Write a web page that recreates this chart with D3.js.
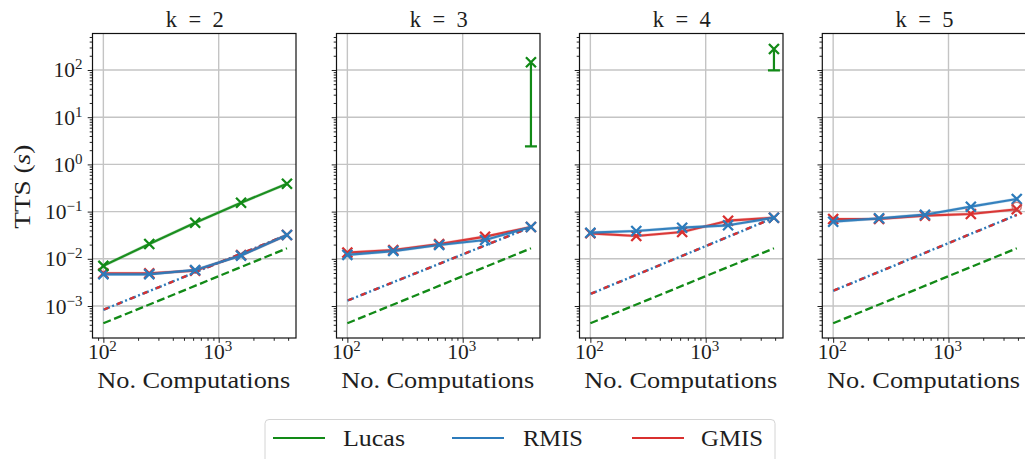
<!DOCTYPE html>
<html>
<head>
<meta charset="utf-8">
<script src="https://cdn.jsdelivr.net/npm/d3@7"></script>
<style>
  html, body { margin: 0; padding: 0; background: #fff; }
  svg { display: block; }
  text { font-family: "Liberation Serif", "Times New Roman", serif; fill: #1e1e1e; }
</style>
</head>
<body>
<svg id="chart" width="1025" height="459"></svg>
<script>
// Problem sizes (number of computations) shared by every panel
const computations = [100, 250, 625, 1562.5, 3906.25];
const kValues = [2, 3, 4, 5];

// Time-to-solution (s) per panel, one array per k
const lucasTTS = [
  [0.0071, 0.0206, 0.058, 0.154, 0.39],
  [null, null, null, null, 146],
  [null, null, null, null, 279],
  [null, null, null, null, null]
];
// lower end of the Lucas error bar (only where a single run was measured)
const lucasLower = [null, 2.4, 98, null];

const rmisTTS = [
  [0.0047, 0.0047, 0.0058, 0.0117, 0.032],
  [0.0121, 0.0146, 0.0196, 0.025, 0.0472],
  [0.0357, 0.0388, 0.0456, 0.0513, 0.0743],
  [0.0611, 0.0721, 0.0859, 0.127, 0.185]
];
const gmisTTS = [
  [0.0049, 0.0049, 0.0056, 0.012, 0.032],
  [0.0135, 0.0153, 0.0205, 0.0294, 0.0472],
  [0.0347, 0.0304, 0.037, 0.0641, 0.0743],
  [0.0697, 0.0697, 0.0818, 0.089, 0.112]
];

// Linear-scaling guide lines: value at the first and last problem size
const misGuideStart = [0.00083, 0.0013, 0.0018, 0.0021];
const misGuideEnd   = [0.032, 0.047, 0.074, 0.085];
const lucasGuide    = [0.00043, 0.0167];

// extra open marker on the k = 5 panel at the largest size
const extraMarker = [null, null, null, 0.127];

const yTickValues = [1e-3, 1e-2, 1e-1, 1e0, 1e1, 1e2];
const yTickExps   = ["−3", "−2", "−1", "0", "1", "2"];
const xTickValues = [1e2, 1e3];
const xTickExps   = ["2", "3"];

const seriesNames  = ["Lucas", "RMIS", "GMIS"];
const seriesColors = ["#128a17", "#2c7bbb", "#d9302f"];

// ---- layout ----
const svg = d3.select("#chart");
const panelLeft = [92.5, 336.5, 579.5, 822.3];
const panelW = 203.5;
const panelTop = 33.5, panelBottom = 338;

const x = d3.scaleLog().domain([80.5, 4680]).range([0, panelW]);
const y = d3.scaleLog().domain([2.1e-4, 593]).range([panelBottom - panelTop, 0]);
const H = panelBottom - panelTop;

const defs = svg.append("defs");

function xMarker(g, cx, cy, color, r = 5) {
  g.append("path")
    .attr("d", `M${cx - r},${cy - r}L${cx + r},${cy + r}M${cx - r},${cy + r}L${cx + r},${cy - r}`)
    .attr("stroke", color).attr("stroke-width", 2.3).attr("fill", "none");
}

kValues.forEach((k, i) => {
  const g = svg.append("g").attr("transform", `translate(${panelLeft[i]},${panelTop})`);
  const clipId = "clip" + i;
  defs.append("clipPath").attr("id", clipId)
    .append("rect").attr("x", -6).attr("y", 0).attr("width", panelW + 12).attr("height", H);

  // grid
  const grid = g.append("g");
  yTickValues.forEach(v => {
    grid.append("line").attr("x1", 0).attr("x2", panelW)
      .attr("y1", y(v)).attr("y2", y(v))
      .attr("stroke", "#c4c4c4").attr("stroke-width", 1.4);
  });
  xTickValues.forEach(v => {
    grid.append("line").attr("y1", 0).attr("y2", H)
      .attr("x1", x(v)).attr("x2", x(v))
      .attr("stroke", "#c4c4c4").attr("stroke-width", 1.4);
  });

  // axes with log minor ticks
  const xMinor = [];
  for (let d = 10; d <= 1000; d *= 10)
    for (let m = 2; m <= 9; m++) xMinor.push(d * m);
  const yMinor = [];
  for (let d = 1e-4; d <= 100; d *= 10)
    for (let m = 2; m <= 9; m++) yMinor.push(d * m);

  const xAxisMinor = d3.axisBottom(x).tickValues(xMinor.filter(v => v >= 80.5 && v <= 4680))
    .tickSize(2.8).tickFormat("");
  const xAxisMajor = d3.axisBottom(x).tickValues(xTickValues).tickSize(4.8).tickFormat("");
  const yAxisMinor = d3.axisLeft(y).tickValues(yMinor.filter(v => v >= 2.1e-4 && v <= 593))
    .tickSize(2.8).tickFormat("");
  const yAxisMajor = d3.axisLeft(y).tickValues(yTickValues).tickSize(4.8).tickFormat("");

  [xAxisMinor, xAxisMajor].forEach(ax => {
    const a = g.append("g").attr("transform", `translate(0,${H})`).call(ax);
    a.select(".domain").remove();
    a.selectAll("line").attr("stroke", "#222").attr("stroke-width", 1);
  });
  [yAxisMinor, yAxisMajor].forEach(ax => {
    const a = g.append("g").call(ax);
    a.select(".domain").remove();
    a.selectAll("line").attr("stroke", "#222").attr("stroke-width", 1);
  });

  // x tick labels: 10^n
  xTickValues.forEach((v, j) => {
    const t = g.append("text").attr("x", x(v) - 1).attr("y", H + 21)
      .attr("text-anchor", "middle").style("font-size", "21.5px");
    t.append("tspan").text("10");
    t.append("tspan").attr("dy", -8).style("font-size", "15px").text(xTickExps[j]);
  });
  // y tick labels only on the first panel (shared y axis)
  if (i === 0) {
    yTickValues.forEach((v, j) => {
      const t = g.append("text").attr("x", -10).attr("y", y(v) + 7.5)
        .attr("text-anchor", "end").style("font-size", "21.5px");
      t.append("tspan").text("10");
      t.append("tspan").attr("dy", -8).style("font-size", "15px").text(yTickExps[j]);
    });
  }

  // x axis label
  g.append("text").attr("x", panelW / 2 - 0.5).attr("y", H + 49.5)
    .attr("text-anchor", "middle").style("font-size", "22.5px")
    .attr("textLength", 193).attr("lengthAdjust", "spacingAndGlyphs")
    .text("No. Computations");

  // title
  g.append("text").attr("x", panelW / 2 + 0.5).attr("y", -6.5)
    .attr("text-anchor", "middle").style("font-size", "22.5px")
    .attr("textLength", 58).attr("lengthAdjust", "spacing")
    .text(`k = ${k}`);

  const plot = g.append("g").attr("clip-path", `url(#${clipId})`);
  const xFirst = computations[0], xLast = computations[computations.length - 1];

  // linear-scaling guides
  const guide = d3.line().x(d => x(d[0])).y(d => y(d[1]));
  plot.append("path").datum([[xFirst, lucasGuide[0]], [xLast, lucasGuide[1]]])
    .attr("d", guide).attr("fill", "none").attr("stroke", seriesColors[0])
    .attr("stroke-width", 2.3).attr("stroke-dasharray", "8,3.6");
  const misGuide = [[xFirst, misGuideStart[i]], [xLast, misGuideEnd[i]]];
  plot.append("path").datum(misGuide)
    .attr("d", guide).attr("fill", "none").attr("stroke", seriesColors[1])
    .attr("stroke-width", 2.4).attr("stroke-dasharray", "7,2.5,2,2.5");
  plot.append("path").datum(misGuide)
    .attr("d", guide).attr("fill", "none").attr("stroke", seriesColors[2])
    .attr("stroke-width", 2.4).attr("stroke-dasharray", "4.5,9.5").attr("stroke-dashoffset", -1);

  // data series
  const line = d3.line().defined(d => d[1] != null).x(d => x(d[0])).y(d => y(d[1]));
  const drawSeries = (vals, color) => {
    const pts = computations.map((c, j) => [c, vals[j]]);
    plot.append("path").datum(pts).attr("d", line)
      .attr("fill", "none").attr("stroke", color).attr("stroke-width", 3.2)
      .attr("stroke-opacity", 0.25).attr("stroke-linejoin", "round");
    plot.append("path").datum(pts).attr("d", line)
      .attr("fill", "none").attr("stroke", color).attr("stroke-width", 2.2)
      .attr("stroke-opacity", 0.95).attr("stroke-linejoin", "round");
    pts.filter(p => p[1] != null).forEach(p => xMarker(plot, x(p[0]), y(p[1]), color));
  };
  drawSeries(gmisTTS[i], seriesColors[2]);
  drawSeries(rmisTTS[i], seriesColors[1]);

  if (extraMarker[i] != null) {
    plot.append("circle").attr("cx", x(xLast)).attr("cy", y(extraMarker[i])).attr("r", 4.5)
      .attr("fill", "none").attr("stroke", "#c0504d").attr("stroke-width", 1.6).attr("stroke-opacity", 0.7);
  }

  // Lucas: full series or a single point with a lower error bar
  if (lucasLower[i] != null) {
    const cx = x(xLast);
    const top = lucasTTS[i][4];
    plot.append("line").attr("x1", cx).attr("x2", cx)
      .attr("y1", y(top)).attr("y2", y(lucasLower[i]))
      .attr("stroke", seriesColors[0]).attr("stroke-width", 2.2);
    plot.append("line").attr("x1", cx - 6).attr("x2", cx + 6)
      .attr("y1", y(lucasLower[i])).attr("y2", y(lucasLower[i]))
      .attr("stroke", seriesColors[0]).attr("stroke-width", 2.2);
    xMarker(plot, cx, y(top), seriesColors[0]);
  } else if (lucasTTS[i].some(v => v != null)) {
    drawSeries(lucasTTS[i], seriesColors[0]);
  }

  // frame
  g.append("rect").attr("x", 0).attr("y", 0).attr("width", panelW).attr("height", H)
    .attr("fill", "none").attr("stroke", "#111").attr("stroke-width", 1.2);
});

// shared y label
svg.append("text")
  .attr("transform", `translate(30,${(panelTop + panelBottom) / 2 + 1}) rotate(-90)`)
  .attr("text-anchor", "middle").style("font-size", "23px")
  .attr("textLength", 84).attr("lengthAdjust", "spacingAndGlyphs")
  .call(t => {
    t.append("tspan").text("TTS (");
    t.append("tspan").style("font-style", "italic").text("s");
    t.append("tspan").text(")");
  });

// legend
const legend = svg.append("g");
legend.append("rect").attr("x", 265).attr("y", 419.5).attr("width", 510).attr("height", 55)
  .attr("rx", 4).attr("fill", "#fff").attr("stroke", "#d4d4d4").attr("stroke-width", 1);
const legendLineX = [273, 452, 632];
const legendTextX = [343, 523, 701];
const legendTextW = [62, 60, 62];
seriesNames.forEach((name, j) => {
  legend.append("line").attr("x1", legendLineX[j]).attr("x2", legendLineX[j] + 52)
    .attr("y1", 438).attr("y2", 438)
    .attr("stroke", seriesColors[j]).attr("stroke-width", 2.2);
  legend.append("text").attr("x", legendTextX[j]).attr("y", 446)
    .style("font-size", "22.5px")
    .attr("textLength", legendTextW[j]).attr("lengthAdjust", "spacingAndGlyphs")
    .text(name);
});
</script>
</body>
</html>
